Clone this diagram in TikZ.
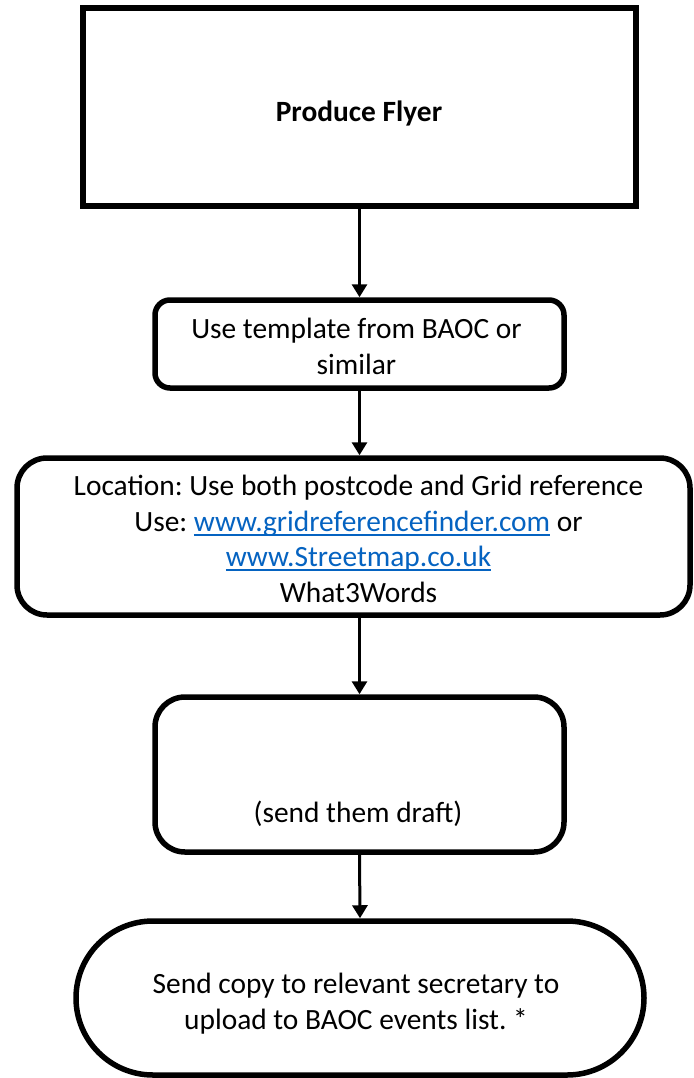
\documentclass[tikz,border=0pt]{standalone}
\usepackage{fontspec}
\setmainfont{Carlito}
\usetikzlibrary{arrows.meta,shapes.misc}
\definecolor{linkblue}{HTML}{0563C1}
\frenchspacing
\newsavebox{\lnkbox}
\newcommand{\lnk}[1]{\sbox{\lnkbox}{\color{linkblue}#1}\rlap{\color{linkblue}\rule[-4.4pt]{\wd\lnkbox}{1.8pt}}\usebox{\lnkbox}}
\tikzset{
  boxline/.style={draw=black, line width=5.5pt, fill=white},
  sqbox/.style={boxline, line width=6pt, rectangle, inner sep=0pt},
  rbox/.style={boxline, rectangle, inner sep=0pt},
  capsule/.style={boxline, rounded rectangle, inner sep=0pt},
  txt/.style={align=center, inner sep=0pt, font=\fontsize{29.4}{35.4}\selectfont},
  flow/.style={draw=black, line width=3pt, -{Triangle[width=15pt,length=13pt]}}
}
\begin{document}
\begin{tikzpicture}[x=1pt,y=-1pt]
\useasboundingbox (0,0) rectangle (693,1078);
% boxes
\node[sqbox, minimum width=553pt, minimum height=198pt] (b1) at (359.5,107) {};
\node[rbox, rounded corners=15pt, minimum width=409pt, minimum height=88pt] (b2) at (359.5,344) {};
\node[rbox, rounded corners=30pt, minimum width=673pt, minimum height=157pt] (b3) at (353.5,536.5) {};
\node[rbox, rounded corners=30pt, minimum width=409pt, minimum height=155pt] (b4) at (359.5,774.5) {};
\node[capsule, minimum width=568pt, minimum height=154pt] (b5) at (360,998) {};
% texts
\node[txt] (t1) at (359,114) {\strut\bfseries Produce Flyer};
\node[txt] (t2) at (356.5,349.5) {\strut Use template from BAOC or\\\strut similar};
\node[txt] (t3) at (358.5,542) {\strut Location: Use both postcode and Grid reference\\
\strut Use: \lnk{www.gridreferencefinder.com} or\\
\strut\lnk{www.Streetmap.co.uk}\\
\strut What3Words};
\node[txt] (t4) at (358,815) {\strut(send them draft)};
\node[txt] (t5) at (356,1004.5) {\strut Send copy to relevant secretary to\\\strut upload to BAOC events list. *};
% connectors
\draw[flow] (b1.south) -- (b2.north);
\draw[flow] (b2.south) -- (b2.south |- b3.north);
\draw[flow] (b2.south |- b3.south) -- (b4.north);
\draw[flow] (b4.south) -- (b5.north);
\end{tikzpicture}
\end{document}
